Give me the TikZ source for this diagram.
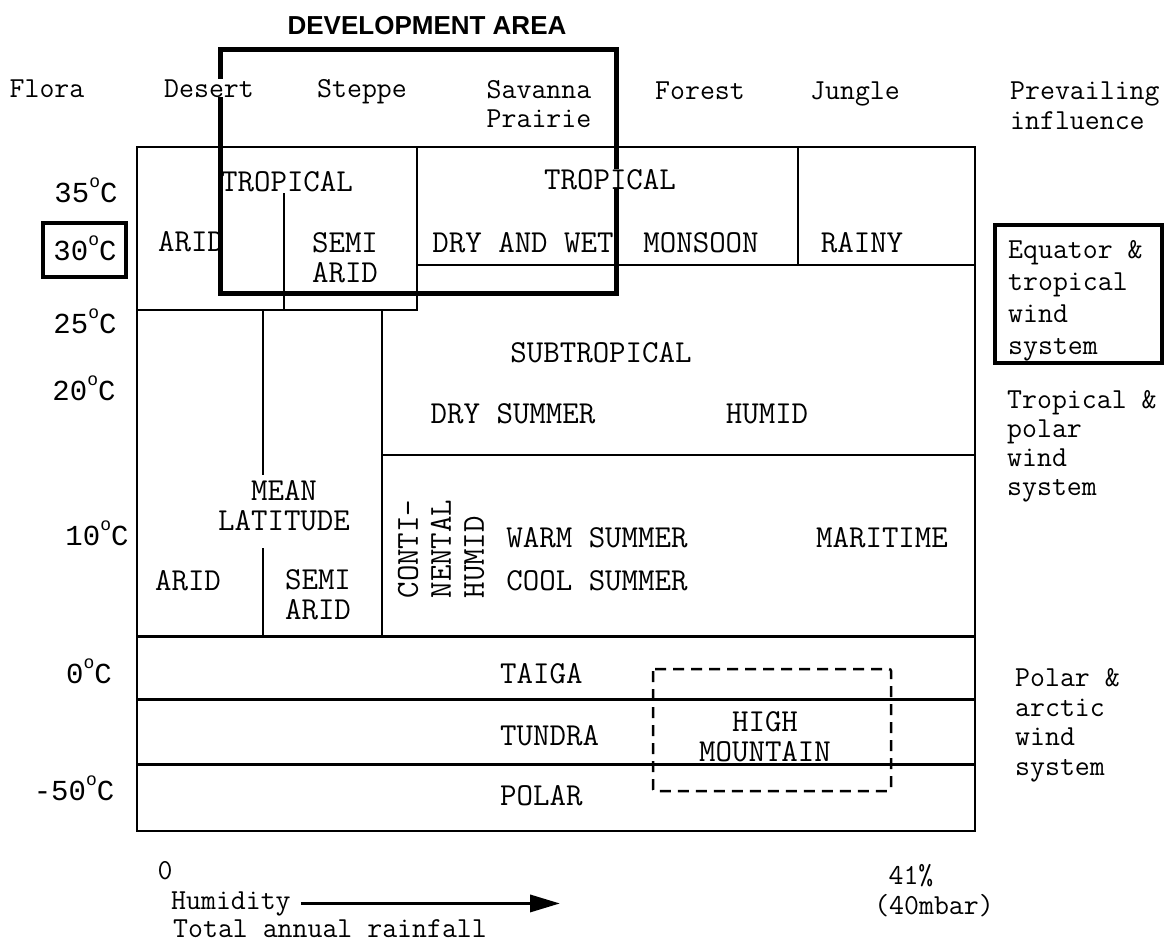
\documentclass[tikz,border=0pt]{standalone}
\usepackage{fontspec}
\newfontfamily\titlefont{Liberation Sans}
\newfontfamily\tempfont{Liberation Mono}
\usetikzlibrary{arrows.meta}
\newcommand\mixf{\ttfamily\fontsize{29}{30}\selectfont}
\newcommand\capf{\ttfamily\fontsize{32}{29}\selectfont\addfontfeature{FakeStretch=0.87}}
\newcommand\tmpf{\tempfont\fontsize{29}{30}\selectfont}
\newcommand\dgr{\raisebox{0.5em}{\fontsize{18}{18}\selectfont o}}
\tikzset{
  mixlab/.style={font=\mixf, inner sep=0pt, anchor=base},
  caplab/.style={font=\capf, inner sep=0pt, anchor=base, align=center},
  tmplab/.style={font=\tmpf, inner sep=0pt, anchor=base},
  gridln/.style={line width=2.5pt},
  thinln/.style={line width=2pt},
  heavyln/.style={line width=3pt},
  devbox/.style={line width=5pt},
  framebox/.style={line width=4.5pt},
}
\begin{document}
\begin{tikzpicture}[x=1pt,y=-1pt]
\useasboundingbox (0,0) rectangle (1166,942);

% main grid
\coordinate (mNW) at (137,147);
\coordinate (mSE) at (975,831);
\draw[gridln] (mNW) rectangle (mSE);
\draw[heavyln] (137,636) -- (975,636);
\draw[heavyln] (137,699) -- (975,699);
\draw[heavyln] (137,764) -- (975,764);
% tropical
\draw[gridln] (417,147) -- (417,310) -- (137,310);
\draw[thinln] (284,193) -- (284,310);
\draw[gridln] (417,265) -- (975,265);
\draw[gridln] (798,147) -- (798,265);
% subtropical / mean latitude
\draw[gridln] (263,310) -- (263,475);
\draw[gridln] (263,548) -- (263,636);
\draw[gridln] (382,310) -- (382,636);
\draw[gridln] (382,455) -- (975,455);

% development area box
\node[font=\titlefont\bfseries\fontsize{26}{26}\selectfont, inner sep=0pt] (devt) at (427,26) {DEVELOPMENT AREA};
\draw[devbox] (220,50) rectangle (616,293);

% top labels
\node[mixlab] (flora) at (47,97) {Flora};
\node[mixlab, fill=white] (desert) at (209,97) {Desert};
\node[mixlab] (steppe) at (362,97) {Steppe};
\node[mixlab, align=center] (savanna) at (539,127) {Savanna\\[-1pt]Prairie};
\node[mixlab] (forest) at (700,99) {Forest};
\node[mixlab] (jungle) at (855,99) {Jungle};
\node[mixlab, anchor=base west, align=left] (prev) at (1010,129) {Prevailing\\influence};

% temperatures
\node[tmplab] (t35) at (86,202) {35\dgr C};
\node[tmplab] (t30) at (85,260) {30\dgr C};
\draw[framebox] (43,223) rectangle (126,277);
\node[tmplab] (t25) at (85,333) {25\dgr C};
\node[tmplab] (t20) at (84,400) {20\dgr C};
\node[tmplab] (t10) at (97,545) {10\dgr C};
\node[tmplab] (t0) at (89,683) {0\dgr C};
\node[tmplab] (tm50) at (74,800) {-50\dgr C};

% tropical labels
\node[caplab] (tropL) at (287,191) {TROPICAL};
\node[caplab, fill=white, inner xsep=2pt] (tropR) at (610,189) {TROPICAL};
\node[caplab] (arid1) at (191,251) {ARID};
\node[caplab] (semi1) at (345,282) {SEMI\\[1pt]ARID};
\node[caplab] (drywet) at (523,252) {DRY AND WET};
\node[caplab] (monsoon) at (701,252) {MONSOON};
\node[caplab] (rainy) at (862,252) {RAINY};

% subtropical labels
\node[caplab] (subtrop) at (601,362) {SUBTROPICAL};
\node[caplab] (drysum) at (513,423) {DRY SUMMER};
\node[caplab] (humid1) at (767,423) {HUMID};

% mean latitude
\node[caplab] (mean) at (284,530) {MEAN\\[1pt]LATITUDE};
\node[caplab] (arid2) at (188,590) {ARID};
\node[caplab] (semi2) at (318,619) {SEMI\\[1pt]ARID};
\node[font=\capf, inner sep=0pt, rotate=90, align=left] (conti) at (441,549) {CONTI-\\[4pt]NENTAL\\[4pt]HUMID};
\node[caplab] (warm) at (597,547) {WARM SUMMER};
\node[caplab] (cool) at (597,590) {COOL SUMMER};
\node[caplab] (marit) at (882,547) {MARITIME};

% polar rows
\node[caplab, anchor=base west] (taiga) at (500,683) {TAIGA};
\node[caplab, anchor=base west] (tundra) at (500,745) {TUNDRA};
\node[caplab, anchor=base west] (polar) at (500,805) {POLAR};
\draw[line width=2.5pt, dash pattern=on 11pt off 7pt, rounded corners=2pt] (653,669) rectangle (891,791);
\node[caplab] (highm) at (765,761) {HIGH\\[1pt]MOUNTAIN};

% prevailing influence
\draw[framebox] (995,225) rectangle (1162,363);
\node[mixlab, anchor=base west, align=left] (equator) at (1008,354) {Equator \&\\[2pt]tropical\\[2pt]wind\\[2pt]system};
\node[mixlab, anchor=base west, align=left] (tropol) at (1007,495) {Tropical \&\\[-1pt]polar\\[-1pt]wind\\[-1pt]system};
\node[mixlab, anchor=base west, align=left] (polarw) at (1015,775) {Polar \&\\[-0.5pt]arctic\\[-0.5pt]wind\\[-0.5pt]system};

% humidity axis
\node[mixlab] (zero) at (165,879) {0};
\node[mixlab, anchor=base west] (hum) at (171,909) {Humidity};
\node[mixlab, anchor=base west] (rain) at (173,937) {Total annual rainfall};
\coordinate (arrE) at (560,900);
\draw[line width=3.5pt, -{Triangle[length=30pt,width=17pt]}, shorten <=10pt] (hum.east) -- (hum.east -| arrE);
\node[mixlab] (pct) at (911,884) {41\%};
\node[mixlab] (mbar) at (934,914) {(40mbar)};
\end{tikzpicture}
\end{document}
